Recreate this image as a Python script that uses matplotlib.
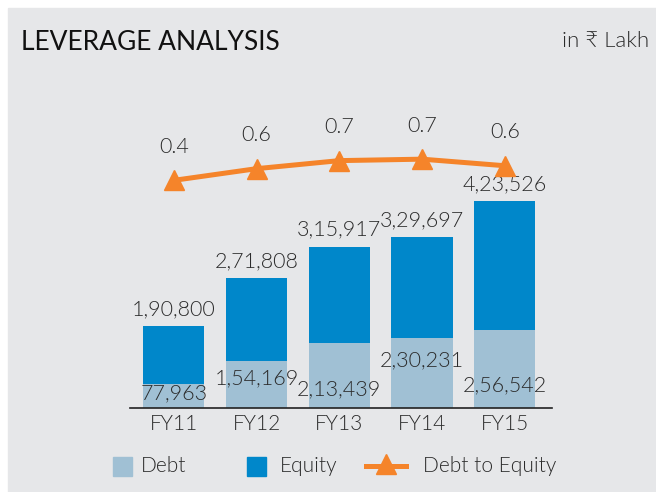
import matplotlib
matplotlib.use('Agg')
import matplotlib.pyplot as plt
from matplotlib.patches import Rectangle
from matplotlib.lines import Line2D

years = ['FY11', 'FY12', 'FY13', 'FY14', 'FY15']
debt = [77963, 154169, 213439, 230231, 256542]
equity = [190800, 271808, 315917, 329697, 423526]
debt_to_equity = [0.41, 0.57, 0.68, 0.70, 0.61]

debt_labels = ['77,963', '1,54,169', '2,13,439', '2,30,231', '2,56,542']
equity_labels = ['1,90,800', '2,71,808', '3,15,917', '3,29,697', '4,23,526']

# label heights above the base line (points), as placed in the original
debt_label_dy = [10, 21, 13, 34, 16]

c_debt = '#a0c0d4'
c_equity = '#0087ca'
c_line = '#f5842a'
c_bg = '#e6e7e9'
c_text = '#2b2b2b'

plt.rcParams['font.family'] = ['Lato', 'DejaVu Sans']
LW = 300  # Lato Light

W, H = 656, 492
fig = plt.figure(figsize=(W / 100, H / 100), dpi=100)
fig.patches.append(Rectangle((8 / W, 0), 1, 1 - 8 / H, transform=fig.transFigure,
                             color=c_bg, zorder=-1))

# axes from base line (y=407) up to y=100 px, x from 130 to 552 px
ax = fig.add_axes([130 / W, (H - 407.5) / H, (552 - 130) / W, (407.5 - 100) / H])
ax.patch.set_visible(False)
x = range(len(years))
ax.bar(x, debt, width=0.74, color=c_debt, zorder=2)
ax.bar(x, equity, width=0.74, bottom=debt, color=c_equity, zorder=2)
ax.set_xlim(-0.53, 4.57)
ax.set_ylim(0, 1012000)

for i in x:
    ax.annotate(equity_labels[i], (i, debt[i] + equity[i]), xytext=(0, 5),
                textcoords='offset points', ha='center', va='bottom',
                fontsize=15.5, color=c_text, fontweight=LW)
    ax.annotate(debt_labels[i], (i, 0), xytext=(0, debt_label_dy[i]),
                textcoords='offset points', ha='center', va='center',
                fontsize=15.5, color=c_text, fontweight=LW, zorder=3)

for s in ['top', 'right', 'left']:
    ax.spines[s].set_visible(False)
ax.spines['bottom'].set_color('#222222')
ax.spines['bottom'].set_linewidth(1.2)
ax.set_yticks([])
ax.set_xticks(list(x))
ax.set_xticklabels(years, fontsize=15, color=c_text, fontweight=LW)
ax.tick_params(axis='x', length=0, pad=5)

ax2 = ax.twinx()
ax2.plot(list(x), debt_to_equity, color=c_line, lw=3.6, marker='^',
         markersize=15, zorder=4)
ax2.set_ylim(-2.70, 1.51)
ax2.set_axis_off()
for i in x:
    ax2.annotate(f'{debt_to_equity[i]:.1f}', (i, debt_to_equity[i]), xytext=(0, 24),
                 textcoords='offset points', ha='center', va='center',
                 fontsize=15.5, color=c_text, fontweight=LW)

fig.text(21 / W, 1 - 42 / H, 'LEVERAGE ANALYSIS', fontsize=19, color='#111111',
         va='center', ha='left')
fig.text(649 / W, 1 - 41 / H, 'in ₹ Lakh', fontsize=16, color=c_text,
         va='center', ha='right', fontweight=LW)

# legend, drawn by hand in pixel positions of the original
ly = 1 - 466 / H
sq = 19
for x0, col in [(113, c_debt), (247, c_equity)]:
    fig.patches.append(Rectangle((x0 / W, ly - sq / 2 / H), sq / W, sq / H,
                                 transform=fig.transFigure, color=col))
fig.add_artist(Line2D([366 / W, 406 / W], [ly, ly], transform=fig.transFigure,
                      color=c_line, lw=3.6))
fig.add_artist(Line2D([386 / W], [ly + 2 / H], transform=fig.transFigure,
                      color=c_line, marker='^', markersize=14))
for x0, name in [(141, 'Debt'), (280, 'Equity'), (423, 'Debt to Equity')]:
    fig.text(x0 / W, ly, name, fontsize=15, color=c_text, fontweight=LW,
             va='center', ha='left')

fig.savefig('out.png', dpi=100)
